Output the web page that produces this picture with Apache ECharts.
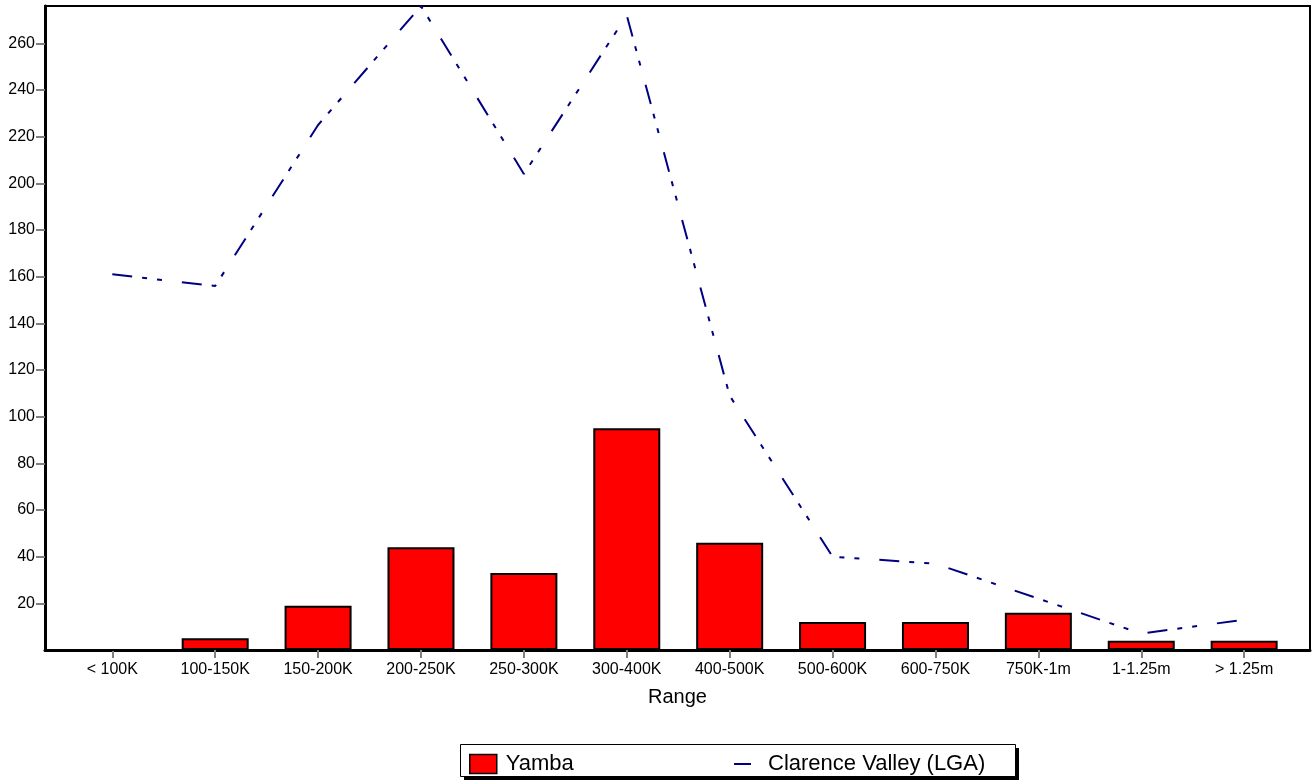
<!DOCTYPE html>
<html>
<head>
<meta charset="utf-8">
<script src="https://cdn.jsdelivr.net/npm/echarts@6/dist/echarts.min.js"></script>
<style>
html,body{margin:0;padding:0;background:#fff;}
#c{width:1316px;height:780px;}
</style>
</head>
<body>
<div id="c"></div>
<script>
var categories = ['< 100K','100-150K','150-200K','200-250K','250-300K','300-400K','400-500K','500-600K','600-750K','750K-1m','1-1.25m','> 1.25m'];
var yambaValues = [0,5,19,44,33,95,46,12,12,16,4,4];
var clarenceValues = [161,156,225,276,204,272,109,40,37,22,7,13];
var yTicks = [20,40,60,80,100,120,140,160,180,200,220,240,260];
var seriesNames = ['Yamba','Clarence Valley (LGA)'];

var idx = categories.map(function(_, i){ return i; });
var FONT = '"Liberation Sans", Arial, sans-serif';

var chart = echarts.init(document.getElementById('c'));
chart.setOption({
  animation: false,
  backgroundColor: '#fff',
  grid: {left: 45, right: 6, top: 6, bottom: 130, show: true, borderColor: '#000', borderWidth: 2, backgroundColor: 'transparent'},
  xAxis: {
    type: 'value', min: -0.654, max: 11.64,
    name: 'Range', nameLocation: 'middle', nameGap: 37,
    nameTextStyle: {fontFamily: FONT, fontSize: 20, color: '#000'},
    axisLine: {show: true, onZero: false, lineStyle: {color: '#000', width: 3}},
    axisTick: {show: true, customValues: idx, length: 8, lineStyle: {color: '#808080', width: 2}},
    axisLabel: {customValues: idx, margin: 12, fontFamily: FONT, fontSize: 16, color: '#000',
      formatter: function(v){ return categories[Math.round(v)]; }},
    splitLine: {show: false}
  },
  yAxis: {
    type: 'value', min: 0, max: 276,
    axisLine: {show: true, onZero: false, lineStyle: {color: '#000', width: 3}},
    axisTick: {show: true, customValues: yTicks, length: 9, lineStyle: {color: '#808080', width: 2}},
    axisLabel: {customValues: yTicks, margin: 10, fontFamily: FONT, fontSize: 16, color: '#000', padding: [0,0,4,0]},
    splitLine: {show: false}
  },
  graphic: [{
    type: 'rect', left: 464, top: 748, z: 0,
    shape: {width: 555, height: 32},
    style: {fill: '#000'}
  },{
    type: 'rect', left: 460, top: 744, z: 1,
    shape: {width: 555, height: 32},
    style: {fill: '#fff', stroke: '#000', lineWidth: 1}
  }],
  legend: [{
    data: [seriesNames[0]], left: 464, top: 748, itemWidth: 27, itemHeight: 19, icon: 'rect',
    itemStyle: {borderColor: '#000', borderWidth: 1.5},
    textStyle: {fontFamily: FONT, fontSize: 22, color: '#000', padding: [0,0,0,4]}
  },{
    data: [seriesNames[1]], left: 729, top: 748, itemWidth: 17, itemHeight: 2, icon: 'rect',
    textStyle: {fontFamily: FONT, fontSize: 22, color: '#000', padding: [0,0,0,12]}
  }],
  series: [{
    name: seriesNames[0], type: 'bar', barWidth: 67,
    data: yambaValues.map(function(v, i){ return [i, v]; }),
    itemStyle: {color: '#ff0000', borderColor: '#000', borderWidth: 2},
    z: 2
  },{
    name: seriesNames[1], type: 'line', showSymbol: false, symbol: 'none',
    data: clarenceValues.map(function(v, i){ return [i, v]; }),
    lineStyle: {color: '#000080', width: 2, type: [20,10,5,10,5,20]},
    itemStyle: {color: '#000080'},
    z: 3
  }]
});
</script>
</body>
</html>
